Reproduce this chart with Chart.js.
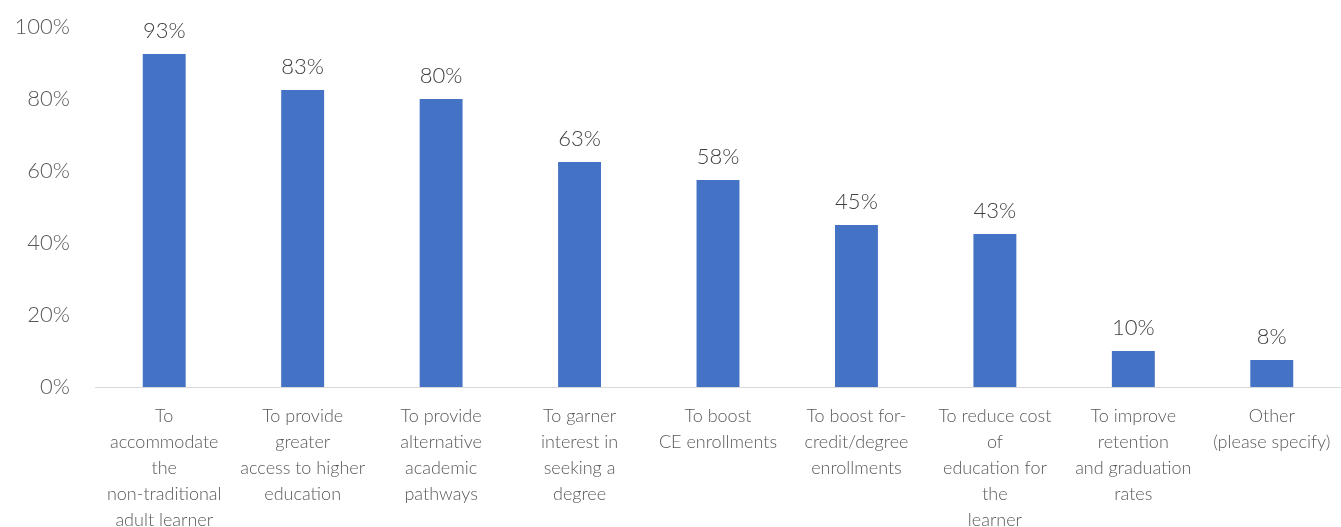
<!DOCTYPE html>
<html>
<head>
<meta charset="utf-8">
<script src="https://cdn.jsdelivr.net/npm/chart.js@4"></script>
<style>
  html, body { margin: 0; padding: 0; background: #fff; overflow: hidden; }
  canvas { display: block; }
</style>
</head>
<body>
<canvas id="purposeChart" width="1341" height="527"></canvas>
<script>
// categories (one entry per wrapped line)
const categories = [
  ["To", "accommodate", "the", "non-traditional", "adult learner"],
  ["To provide", "greater", "access to higher", "education"],
  ["To provide", "alternative", "academic", "pathways"],
  ["To garner", "interest in", "seeking a", "degree"],
  ["To boost", "CE enrollments"],
  ["To boost for-", "credit/degree", "enrollments"],
  ["To reduce cost", "of", "education for", "the", "learner"],
  ["To improve", "retention", "and graduation", "rates"],
  ["Other", "(please specify)"]
];
const percentValues = [92.5, 82.5, 80, 62.5, 57.5, 45, 42.5, 10, 7.5];
const valueLabels = ["93%", "83%", "80%", "63%", "58%", "45%", "43%", "10%", "8%"];
const yTicks = [0, 20, 40, 60, 80, 100];

const barLabels = {
  id: "barLabels",
  afterDatasetsDraw(chart) {
    const ctx = chart.ctx;
    const meta = chart.getDatasetMeta(0);
    ctx.save();
    ctx.font = "300 22px Lato";
    ctx.fillStyle = "#404040";
    ctx.textAlign = "center";
    ctx.textBaseline = "bottom";
    meta.data.forEach(function (bar, i) {
      ctx.fillText(valueLabels[i], bar.x, bar.y - 12);
    });
    ctx.restore();
  }
};

document.addEventListener("DOMContentLoaded", function () {
  const ctx = document.getElementById("purposeChart").getContext("2d");

  new Chart(ctx, {
    type: "bar",
    data: {
      labels: categories,
      datasets: [{
        data: percentValues,
        backgroundColor: "#4472c4",
        barPercentage: 0.31,
        categoryPercentage: 1
      }]
    },
    options: {
      responsive: false,
      animation: false,
      layout: { padding: { top: 27, right: 0, left: 0, bottom: 0 } },
      plugins: {
        legend: { display: false },
        tooltip: { enabled: false }
      },
      scales: {
        x: {
          grid: { display: false, drawTicks: false },
          border: { display: true, color: "#d9d9d9", width: 1 },
          ticks: {
            color: "#595959",
            font: { family: "Lato", size: 18, weight: 300, lineHeight: 1.45 },
            padding: 16,
            maxRotation: 0,
            autoSkip: false
          },
          afterFit: function (scale) {
            scale.height = 140;
            scale.paddingLeft = 0;
            scale.paddingRight = 0;
          }
        },
        y: {
          min: 0,
          max: 100,
          grid: { display: false, drawTicks: false },
          border: { display: false },
          afterBuildTicks: function (scale) {
            scale.ticks = yTicks.map(function (v) { return { value: v }; });
          },
          ticks: {
            color: "#595959",
            font: { family: "Lato", size: 22, weight: 300 },
            padding: 25,
            callback: function (v) { return v + "%"; }
          },
          afterFit: function (scale) {
            scale.width = 95;
            scale.paddingTop = 0;
            scale.paddingBottom = 0;
          }
        }
      }
    },
    plugins: [barLabels]
  });
});
</script>
</body>
</html>
